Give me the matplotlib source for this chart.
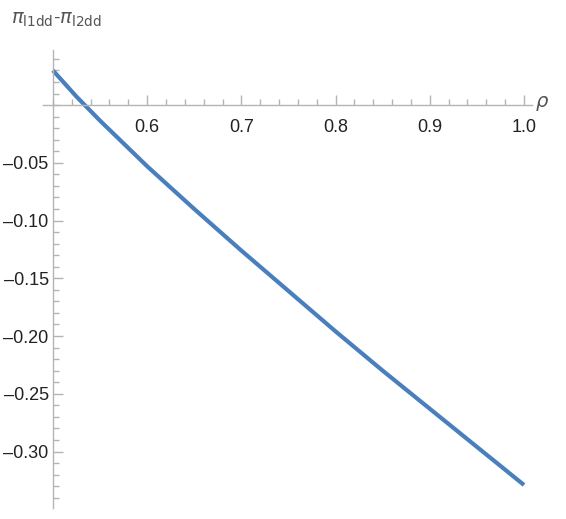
import numpy as np
import matplotlib.pyplot as plt
from matplotlib.ticker import MultipleLocator, FuncFormatter

# curve values
rho = [0.500, 0.525, 0.55, 0.60, 0.65, 0.70, 0.75, 0.80, 0.85, 0.90, 0.95, 1.00]
diff = [0.030, 0.0073, -0.0135, -0.053, -0.090, -0.126, -0.161, -0.196, -0.230, -0.263, -0.296, -0.329]
x_ticks = [0.6, 0.7, 0.8, 0.9, 1.0]
y_ticks = [-0.05, -0.10, -0.15, -0.20, -0.25, -0.30]

plt.rcParams['font.family'] = ['Liberation Sans', 'DejaVu Sans']
axis_grey = '#b4b4b4'
text_grey = '#555555'

fig = plt.figure(figsize=(5.66, 5.19), dpi=100)
ax = fig.add_axes([0.076, 0.021, 0.864, 0.8825])

ax.plot(rho, diff, color='#4a7fbd', linewidth=3.0, solid_capstyle='butt')

ax.set_xlim(0.4895, 1.0085)
ax.set_ylim(-0.349, 0.0476)

for s in ['top', 'right']:
    ax.spines[s].set_visible(False)
ax.spines['left'].set_position(('data', 0.5))
ax.spines['bottom'].set_position(('data', 0.0))
for s in ['left', 'bottom']:
    ax.spines[s].set_color(axis_grey)
    ax.spines[s].set_linewidth(1.0)

ax.set_xticks(x_ticks)
ax.set_yticks(y_ticks)
ax.xaxis.set_minor_locator(MultipleLocator(0.02))
ax.yaxis.set_minor_locator(MultipleLocator(0.01))
ax.xaxis.set_major_formatter(FuncFormatter(lambda v, p: f'{v:.1f}'))
ax.yaxis.set_major_formatter(FuncFormatter(lambda v, p: f'{v:.2f}'.replace('-', '\u2013')))
ax.tick_params(which='both', direction='in', color=axis_grey, width=1.0)
ax.tick_params(which='major', length=7, labelsize=13, labelcolor='#222222')
ax.tick_params(which='minor', length=4)
ax.tick_params(axis='x', which='major', pad=10)
ax.tick_params(axis='y', which='major', pad=3)

fig.text(0.945, 0.8, r'$\rho$', fontsize=14, color=text_grey, ha='left', va='center')
fig.text(0.02, 0.962, r'$\pi_{\mathrm{l1dd}}$-$\pi_{\mathrm{l2dd}}$', fontsize=14,
         color=text_grey, ha='left', va='center')

plt.savefig('out.png', dpi=100)
